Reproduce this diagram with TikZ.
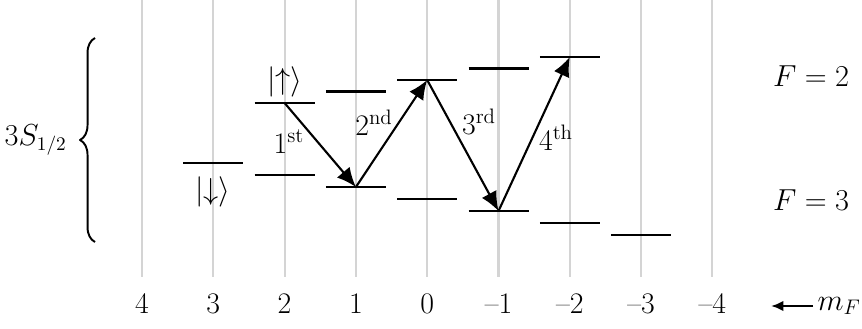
\documentclass[tikz,border=0pt]{standalone}
\usetikzlibrary{arrows.meta,decorations.pathreplacing}
\begin{document}
\begin{tikzpicture}[x=0.02cm,y=-0.02cm,line join=round,
  font=\fontsize{17}{20}\selectfont,
  grid/.style={black!17,line width=1.2pt},
  level/.style={line width=1.2pt},
  hop/.style={line width=1.2pt,-{Latex[length=11pt,width=9.5pt]}}]
  \useasboundingbox (0,0) rectangle (862,328);
  % m_F columns
  \foreach \lbl [count=\i from 0] in {4,3,2,1,0,\textendash1,\textendash2,\textendash3,\textendash4} {
    \draw[grid] (142+71.3*\i,0) -- (142+71.3*\i,277);
    \node (m\i) at (142+71.3*\i,304) {\lbl};
  }
  % F = 2 sublevels
  \foreach \i in {2,...,6} {
    \coordinate (u\i) at (142+71.3*\i,103-11.5*\i+23);
    \draw[level] (u\i) ++(-30,0) -- ++(60,0);
  }
  % F = 3 sublevels
  \foreach \i in {1,...,7} {
    \coordinate (d\i) at (142+71.3*\i,151+12*\i);
    \draw[level] (d\i) ++(-30,0) -- ++(60,0);
  }
  \draw[hop] (u2) -- (d3);
  \draw[hop] (d3) -- (u4);
  \draw[hop] (u4) -- (d5);
  \draw[hop] (d5) -- (u6);
  \node (up) at (285,82) {$|{\uparrow}\rangle$};
  \node (down) at (213,192) {$|{\downarrow}\rangle$};
  \node (s1) at (289,142) {1\textsuperscript{st}};
  \node (s2) at (374,123) {2\textsuperscript{nd}};
  \node (s3) at (479,122) {3\textsuperscript{rd}};
  \node (s4) at (556,138) {4\textsuperscript{th}};
  \node (f2) at (811,76) {$F = 2$};
  \node (f3) at (811,200) {$F = 3$};
  \draw[line width=1.1pt,decorate,decoration={brace,amplitude=8.5pt}] (95,242) -- (95,38);
  \node[anchor=east,inner sep=0pt,font=\fontsize{16}{19}\selectfont] (term) at (67,140) {$3S_{1/2}$};
  \node[anchor=east,inner sep=0pt] (mf) at (861,306) {$m_F$};
  \draw[line width=1.2pt,-{Latex[length=7pt,width=6pt]}] (mf.west) ++(-4,0) coordinate (mfa) -- ++(-42,0) coordinate (mfb);
\end{tikzpicture}
\end{document}
